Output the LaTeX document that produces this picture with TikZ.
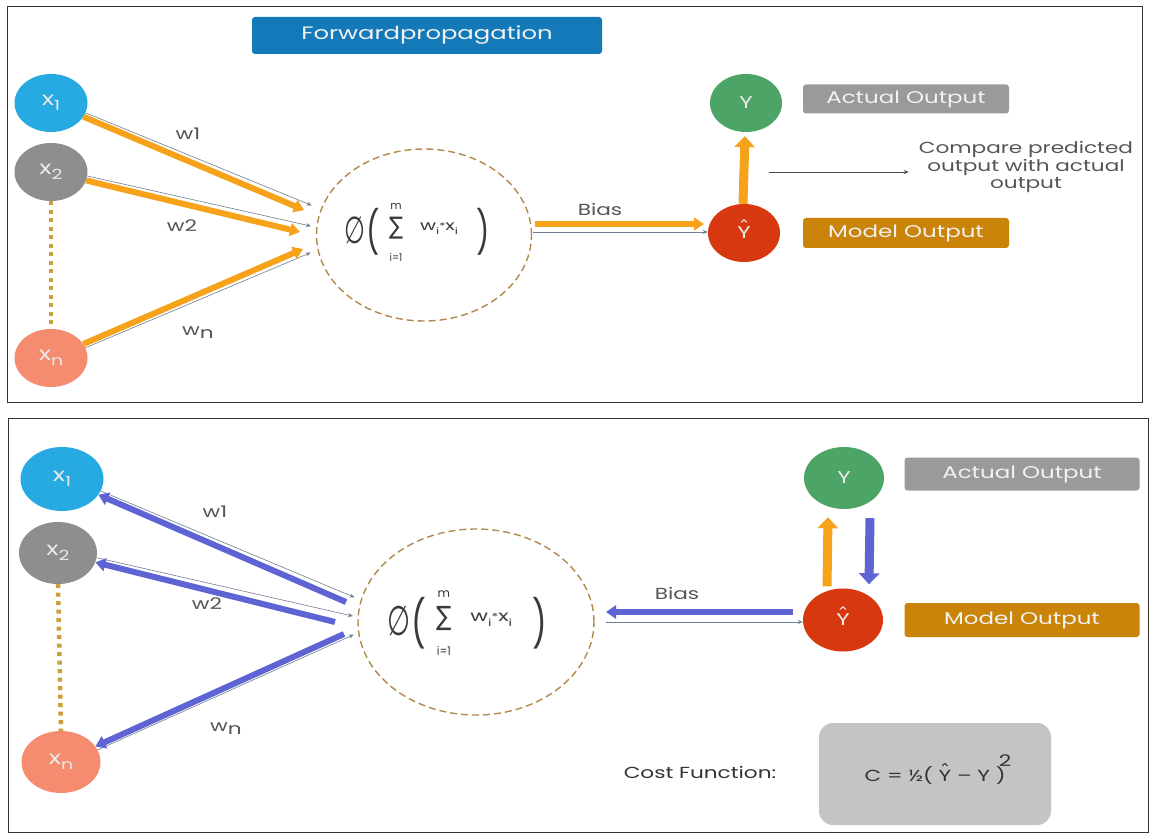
\documentclass[tikz,border=0pt]{standalone}
\usepackage{fontspec}
\usepackage{graphicx}
\setmainfont{Poppins}
\newfontfamily\symfont{DejaVu Sans}
\usetikzlibrary{arrows.meta,shapes.geometric,calc}

\definecolor{cxone}{HTML}{27A9E1}
\definecolor{cxtwo}{HTML}{8E8E8E}
\definecolor{cxn}{HTML}{F58B6F}
\definecolor{cy}{HTML}{4CA566}
\definecolor{cyhat}{HTML}{D8380F}
\definecolor{corange}{HTML}{F7A21B}
\definecolor{cblue}{HTML}{5E64D4}
\definecolor{cfwd}{HTML}{1479B8}
\definecolor{cactual}{HTML}{9A9A9A}
\definecolor{cmodel}{HTML}{C98409}
\definecolor{ccost}{HTML}{C4C4C4}
\definecolor{cdash}{HTML}{B08A4A}
\definecolor{cdot}{HTML}{C9A03A}
\definecolor{ctext}{HTML}{555555}
\definecolor{cformula}{HTML}{3A3A3A}
\definecolor{chair}{HTML}{6F7F90}

% horizontally widened text
\newcommand\wide[1]{\scalebox{1.35}[1]{#1}}
\newcommand\fs[1]{\fontsize{#1}{#1}\selectfont}
% Y with a detached circumflex above it: #1 size of the circumflex, #2 its raise
\newcommand\hatY[2]{\ooalign{Y\cr\hidewidth\raisebox{#2}{\symfont\fs{#1}ˆ}\hidewidth\cr}}
\newcommand\sub[1]{\raisebox{-5pt}{\fs{14}#1}}

\tikzset{
  panel/.style={draw=black!80, line width=0.9pt},
  inp/.style={ellipse, inner sep=0pt, text=white!92!black, font=\fs{19}},
  outnode/.style={ellipse, inner sep=0pt, text=white!92!black, font=\fs{17}},
  label box/.style={rounded corners=3pt, text=white!95!black, font=\fs{17}, inner sep=0pt},
  sumnode/.style={ellipse, draw=cdash, dash pattern=on 7pt off 4pt, line width=1.4pt,
                  inner sep=0pt},
  formula/.style={text=cformula, inner sep=0pt},
  fwd/.style={draw=corange, line width=6pt, -{Triangle[length=10pt,width=13pt]}},
  bwd/.style={draw=cblue, line width=6pt, -{Triangle[length=10pt,width=13pt]}},
  hair/.style={draw=chair, line width=0.6pt, -{Stealth[length=5pt,width=4pt]}},
  vert orange/.style={draw=corange, line width=9pt, -{Triangle[length=11pt,width=20pt]}},
  vert blue/.style={draw=cblue, line width=9pt, -{Triangle[length=11pt,width=20pt]}},
  chain/.style={draw=cdot, line width=4.5pt, dash pattern=on 4pt off 4.5pt},
  wlabel/.style={text=ctext, font=\fs{16}},
  % the activation of the weighted sum, centred on the pic's origin
  pics/activation/.style={code={
    \node[formula] (-phi) at (-62,-2) {\scalebox{0.8}[1.25]{\symfont\fs{30}∅}};
    \node[formula] (-lp)  at (-44,0)  {\scalebox{0.7}[1]{\fs{42}(}};
    \node[formula] (-sig) at (-21,-4) {\scalebox{0.9}[1.05]{\symfont\fs{23}∑}};
    \node[formula] (-top) at (-21,-26) {\fs{11}m};
    \node[formula] (-bot) at (-21,25) {\scalebox{0.9}[1]{\fs{11}i=1}};
    \node[formula] (-wx)  at (22,-3)
      {\scalebox{1.4}[1]{\fs{14}w\raisebox{-4pt}{\fs{9}i}\raisebox{1pt}{\fs{9}*}x\raisebox{-4pt}{\fs{9}i}}};
    \node[formula] (-rp)  at (66,0)   {\scalebox{0.7}[1]{\fs{42})}};
  }},
}

\begin{document}
\begin{tikzpicture}[x=1pt,y=-1pt]
\useasboundingbox (0,0) rectangle (1153,834);
\fill[white] (0,0) rectangle (1153,834);

% ---------------- forward propagation ----------------
\draw[panel] (7,6) rectangle (1142,402);
\node[label box, fill=cfwd, minimum width=350pt, minimum height=37pt, font=\fs{18}]
  (fwdtitle) at (427,35.5) {\wide{Forwardpropagation}};

\node[inp, fill=cxone, minimum width=73pt, minimum height=58pt] (ta) at (51,103)
  {\wide{x\sub{1}}};
\node[inp, fill=cxtwo, minimum width=73pt, minimum height=58pt] (tb) at (51,172)
  {\wide{x\sub{2}}};
\node[inp, fill=cxn, minimum width=73pt, minimum height=58pt] (tn) at (51,358)
  {\wide{x\sub{n}}};
\draw[chain] (tb.south) -- (tn.north);

\node[sumnode, minimum width=215pt, minimum height=172pt] (tsum) at (424,235) {};
\pic (tf) at (417,232) {activation};

\coordinate (tia) at (304,210);
\coordinate (tib) at (300,232);
\coordinate (tin) at (303,249);
\coordinate (tha) at (310,209);
\coordinate (thb) at (310,230);
\coordinate (thn) at (309,249);
\draw[hair, transform canvas={shift={(1.7pt,3.6pt)}}] (ta) -- (tha);
\draw[hair, transform canvas={shift={(1pt,3.9pt)}}] (tb) -- (thb);
\draw[hair, transform canvas={shift={(1.8pt,-3.6pt)}}] (tn) -- (thn);
\draw[fwd] (ta) -- (tia);
\draw[fwd] (tb) -- (tib);
\draw[fwd] (tn) -- (tin);
\node[wlabel] (tw1) at (188,134) {\wide{w1}};
\node[wlabel] (tw2) at (182,226) {\wide{w2}};
\node[wlabel] (twn) at (198,333) {\wide{w\raisebox{-3pt}{n}}};

\node[outnode, fill=cyhat, minimum width=72pt, minimum height=58pt] (tyh) at (744,233)
  {\wide{\hatY{17}{5.5pt}}};
\node[outnode, fill=cy, minimum width=72pt, minimum height=58pt] (ty) at (746,103) {\wide{Y}};

\coordinate (tbiasout) at (535,224);
\coordinate (tbiasin) at (533,232);
\draw[hair] (tbiasin) -- (tyh.west |- tbiasin);
\draw[fwd] (tbiasout) -- ([xshift=-4pt]tyh.west |- tbiasout);
\node[wlabel] (tbias) at (600,209) {\wide{Bias}};
\draw[vert orange] ([xshift=-1pt]tyh.north) -- ([xshift=-1pt,yshift=-4pt]ty.south);

\node[label box, fill=cactual, minimum width=206pt, minimum height=29pt]
  (tactual) at (906,99) {\wide{Actual Output}};
\node[label box, fill=cmodel, minimum width=206pt, minimum height=30pt]
  (tmodel) at (906,233) {\wide{Model Output}};

\coordinate (tcmpstart) at (769,172);
\node[text=ctext, font=\fs{16}, align=center, inner sep=0pt] (tcompare) at (1026,167)
  {\wide{\begin{tabular}{@{}c@{}}Compare predicted\\[1pt]output with actual\\[1pt]output\end{tabular}}};
\draw[draw=black!70, line width=0.8pt, -{Stealth[length=5pt,width=4pt]}]
  (tcmpstart) -- ([xshift=-10pt]tcompare.west |- tcmpstart);

% ---------------- back propagation ----------------
\draw[panel] (8,418) rectangle (1148,832);

\node[inp, fill=cxone, minimum width=83pt, minimum height=64pt] (ba) at (62,479)
  {\wide{x\sub{1}}};
\node[inp, fill=cxtwo, minimum width=78pt, minimum height=62pt] (bb) at (58,553)
  {\wide{x\sub{2}}};
\node[inp, fill=cxn, minimum width=79pt, minimum height=62pt] (bn) at (61,762)
  {\wide{x\sub{n}}};
\draw[chain] (bb.south) -- (bn.north);

\node[sumnode, minimum width=236pt, minimum height=186pt] (bsum) at (476,622) {};
\pic[scale=1.1, transform shape] (bf) at (467,623) {activation};

\coordinate (boa) at (346,602);
\coordinate (bob) at (335,622);
\coordinate (bon) at (344,634);
\coordinate (bha) at (353,601);
\coordinate (bhb) at (352,620);
\coordinate (bhn) at (352,631);
\draw[hair, transform canvas={shift={(1.6pt,3.6pt)}}] (ba) -- (bha);
\draw[hair, transform canvas={shift={(1pt,3.9pt)}}] (bb) -- (bhb);
\draw[hair, transform canvas={shift={(1.8pt,-3.6pt)}}] (bn) -- (bhn);
\draw[bwd] (boa) -- (ba);
\draw[bwd] (bob) -- (bb);
\draw[bwd] (bon) -- (bn);
\node[wlabel] (bw1) at (215,512) {\wide{w1}};
\node[wlabel] (bw2) at (207,604) {\wide{w2}};
\node[wlabel] (bwn) at (226,729) {\wide{w\raisebox{-3pt}{n}}};

\node[outnode, fill=cyhat, minimum width=80pt, minimum height=63pt] (byh) at (843,620)
  {\wide{\hatY{17}{5.5pt}}};
\node[outnode, fill=cy, minimum width=80pt, minimum height=62pt] (by) at (844,478) {\wide{Y}};

\coordinate (bbiasin) at (606,612);
\coordinate (bbiashair) at (606,622);
\draw[hair] (bbiashair) -- (byh.west |- bbiashair);
\draw[bwd] ([xshift=-10pt]byh.west |- bbiasin) -- (bbiasin);
\node[wlabel] (bbias) at (677,593) {\wide{Bias}};
\draw[vert orange] ([xshift=-16pt,yshift=2pt]byh.north) -- ([xshift=-16pt,yshift=-8pt]by.south);
\draw[vert blue] ([xshift=26pt,yshift=-9pt]by.south) -- ([xshift=26pt,yshift=4pt]byh.north);

\node[label box, fill=cactual, minimum width=235pt, minimum height=33pt]
  (bactual) at (1022,474) {\wide{Actual Output}};
\node[label box, fill=cmodel, minimum width=235pt, minimum height=34pt]
  (bmodel) at (1022,620) {\wide{Model Output}};

\node[rounded corners=14pt, fill=ccost, minimum width=232pt, minimum height=102pt]
  (costbox) at (935,774) {};
\node[text=black!80, font=\fs{16}] (costlabel) at (700,772) {\wide{Cost Function:}};
\node[text=black!80, font=\fs{16}] (costformula) at (938,770)
  {\wide{C = ½( \hatY{16}{5pt} -- Y )\hspace{-5pt}\raisebox{15pt}{2}}};
\end{tikzpicture}
\end{document}
